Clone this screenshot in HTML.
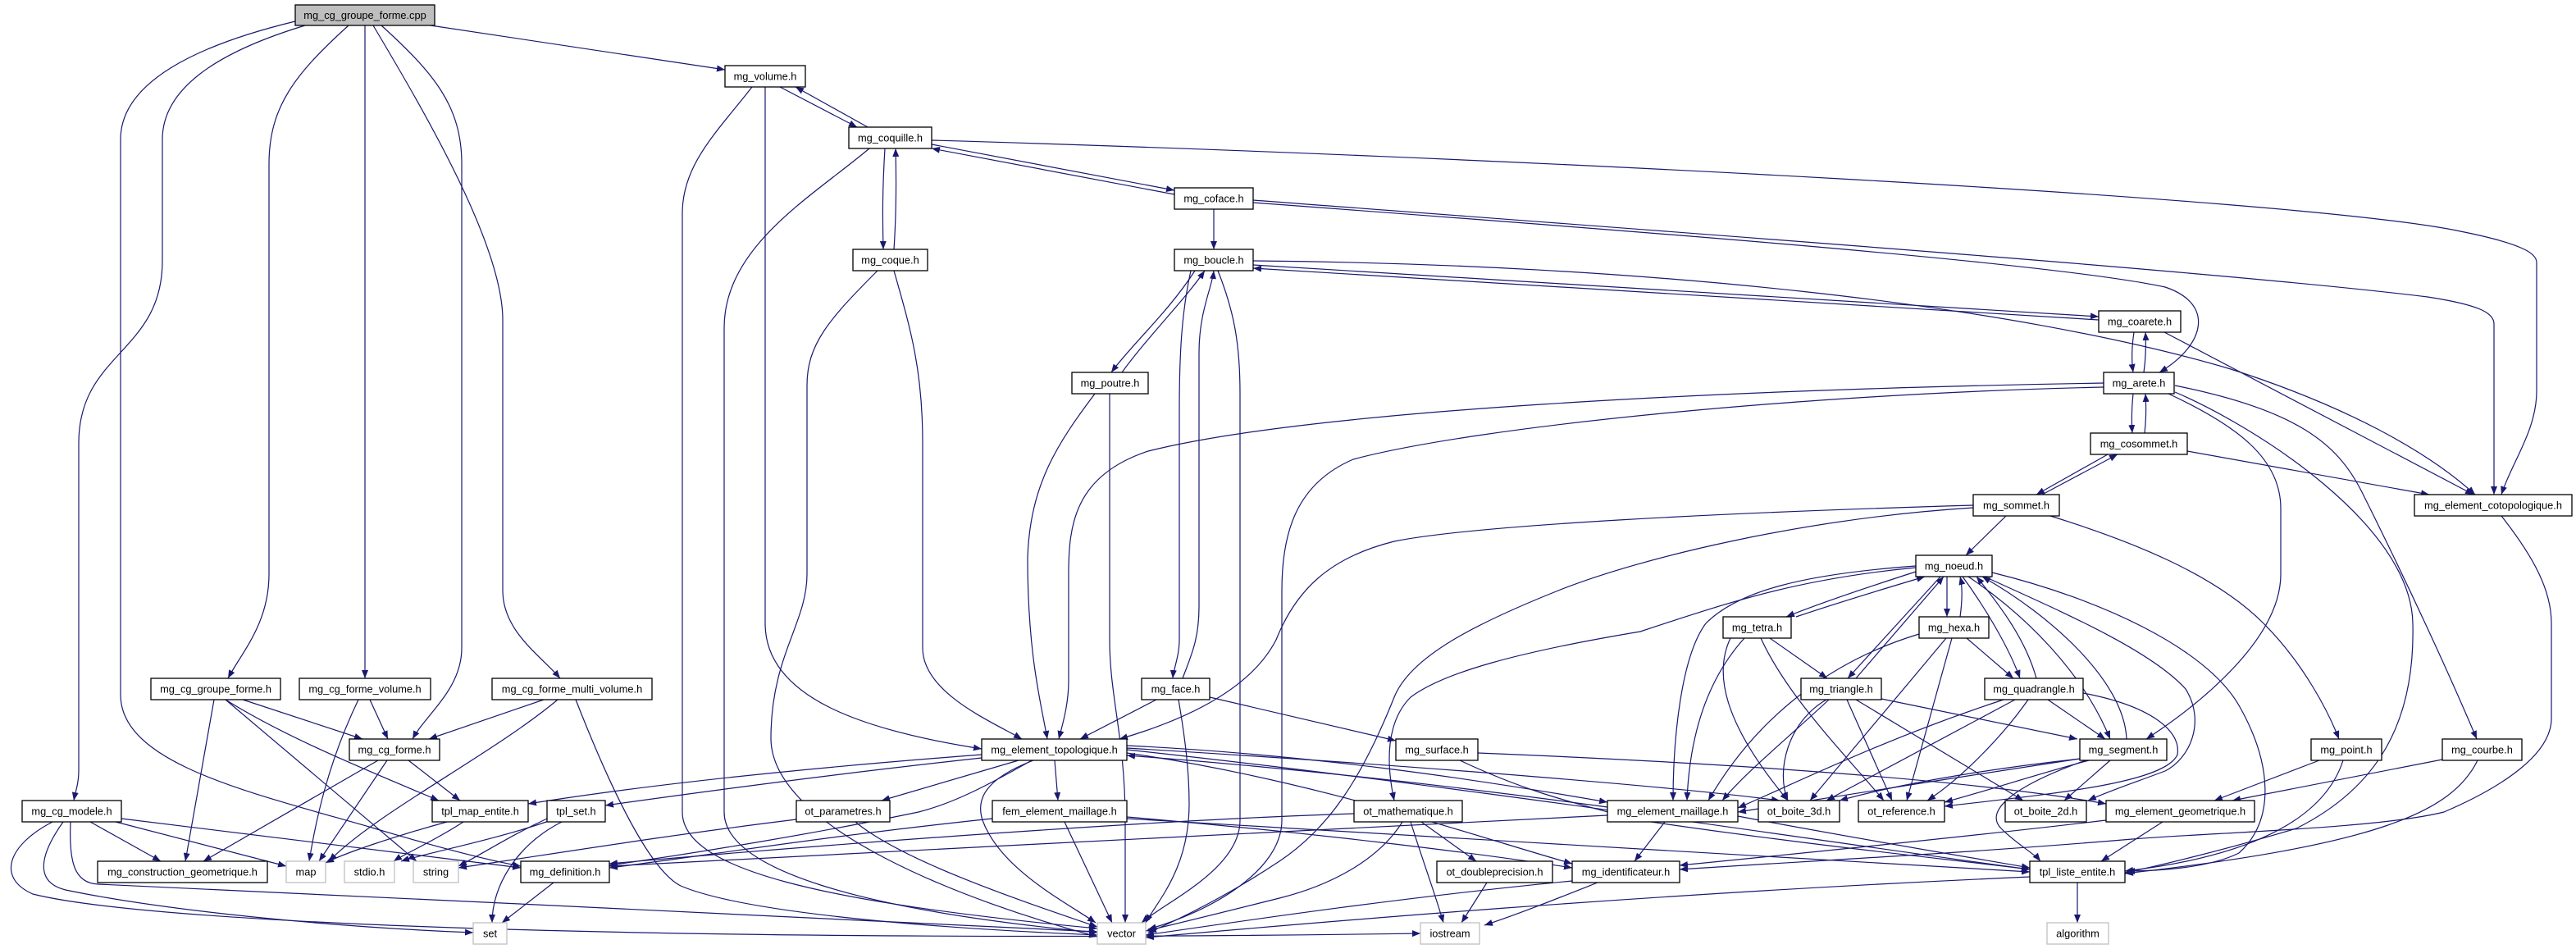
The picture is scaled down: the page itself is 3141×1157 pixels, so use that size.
<!DOCTYPE html>
<html><head><meta charset="utf-8"><style>
html,body{margin:0;padding:0;background:#fff;}
svg{display:block;}
.e{fill:none;stroke:#191970;stroke-width:1.2;marker-end:url(#a);}
.n{fill:#fff;stroke:#000;stroke-width:1.3;}
.g{fill:#fff;stroke:#bfbfbf;stroke-width:1.3;}
.r{fill:#bfbfbf;stroke:#000;stroke-width:1.3;}
text{font-family:"Liberation Sans",Arial,sans-serif;font-size:12.8px;fill:#000;text-anchor:middle;}
</style></head><body>
<svg width="3141" height="1157" viewBox="0 0 3141 1157" xmlns="http://www.w3.org/2000/svg">
<defs><marker id="a" markerWidth="11" markerHeight="8" refX="10" refY="4" orient="auto" markerUnits="userSpaceOnUse"><path d="M0,0 L10,4 L0,8 z" fill="#191970"/></marker></defs>
<g>
<path class="e" d="M525,31 L884,85"/>
<path class="e" d="M372,31 C260,65 198,110 198,170 L198,318 C198,430 96,430 96,540 L96,940 C96,955 92,965 90,976"/>
<path class="e" d="M360,26 C240,55 147,100 147,170 L147,847 C147,930 300,965 450,1008 C530,1032 590,1048 635,1056"/>
<path class="e" d="M425,31 C360,90 328,130 328,200 L328,700 C328,760 295,795 278,827"/>
<path class="e" d="M445,31 L445,827"/>
<path class="e" d="M465,31 C530,90 563,130 563,200 L563,790 C563,840 520,870 503,901"/>
<path class="e" d="M455,31 C520,140 613,300 613,390 L613,720 C613,770 660,800 683,827"/>
<path class="e" d="M951,106 L1045,155"/>
<path class="e" d="M1058,155 L970,106"/>
<path class="e" d="M917,106 C875,160 832,200 832,260 L832,990 C832,1060 1000,1100 1338,1132"/>
<path class="e" d="M933,106 L933,760 C933,850 1050,890 1197,913"/>
<path class="e" d="M1136,176 L1432,232"/>
<path class="e" d="M1432,237 L1136,181"/>
<path class="e" d="M1079,181 C1076,230 1076,260 1077,304"/>
<path class="e" d="M1090,304 C1093,260 1093,220 1092,181"/>
<path class="e" d="M1060,181 C990,240 883,300 883,400 L883,990 C883,1060 1050,1110 1338,1137"/>
<path class="e" d="M1136,171 C1800,190 2800,240 3000,282 C3080,298 3093,310 3093,320 L3093,477 C3093,525 3062,565 3050,603"/>
<path class="e" d="M1480,255 L1480,304"/>
<path class="e" d="M1528,244 C2000,280 2700,330 2960,362 C3025,372 3041,382 3041,395 L3041,603"/>
<path class="e" d="M1528,247 C2000,282 2500,320 2640,350 C2700,370 2690,420 2633,454"/>
<path class="e" d="M1457,330 C1425,380 1380,420 1355,454"/>
<path class="e" d="M1368,454 C1400,410 1445,365 1469,330"/>
<path class="e" d="M1452,330 C1441,380 1438,430 1438,500 L1438,780 C1438,800 1431,815 1430,827"/>
<path class="e" d="M1442,827 C1452,800 1462,780 1462,740 L1462,430 C1462,380 1478,350 1480,330"/>
<path class="e" d="M1485,330 C1505,380 1512,420 1512,480 L1512,1000 C1512,1060 1420,1100 1392,1125"/>
<path class="e" d="M1528,318 C2000,322 2450,370 2720,450 C2860,495 2960,550 3018,603"/>
<path class="e" d="M1528,323 L2559,386"/>
<path class="e" d="M2559,390 L1528,327"/>
<path class="e" d="M1070,330 C1010,390 984,420 984,470 L984,700 C984,760 940,800 940,900 C940,1010 1180,1100 1338,1142"/>
<path class="e" d="M1090,330 C1110,400 1125,450 1125,540 L1125,790 C1125,845 1210,880 1246,901"/>
<path class="e" d="M1335,480 C1290,540 1256,590 1253,680 C1253,800 1270,860 1277,901"/>
<path class="e" d="M1353,480 L1353,780 C1353,850 1372,900 1372,1000 L1372,1125"/>
<path class="e" d="M1410,853 L1317,901"/>
<path class="e" d="M1437,853 C1445,900 1450,940 1450,980 C1450,1060 1410,1100 1397,1125"/>
<path class="e" d="M1475,850 L1702,903"/>
<path class="e" d="M1197,920 C1000,935 800,955 644,980"/>
<path class="e" d="M1197,924 C1050,940 880,962 738,982"/>
<path class="e" d="M1242,927 L1075,976"/>
<path class="e" d="M1286,927 L1290,976"/>
<path class="e" d="M1260,927 C1200,950 1190,975 1198,1000 C1220,1060 1300,1100 1336,1125"/>
<path class="e" d="M1258,927 C1200,960 1160,980 1120,990 C1000,1015 850,1040 743,1055"/>
<path class="e" d="M1374,909 C1600,920 1800,950 1960,978"/>
<path class="e" d="M1960,984 C1800,962 1600,938 1374,921"/>
<path class="e" d="M1374,912 C1750,935 2050,960 2170,976"/>
<path class="e" d="M1374,914 C1800,960 2250,1030 2475,1060"/>
<path class="e" d="M1374,918 C1600,950 1800,1020 1917,1053"/>
<path class="e" d="M1298,1002 L1356,1125"/>
<path class="e" d="M1210,998 C1000,1020 850,1045 743,1058"/>
<path class="e" d="M1374,996 C1600,1015 1800,1040 1917,1058"/>
<path class="e" d="M1374,998 C1700,1015 2200,1050 2475,1063"/>
<path class="e" d="M1651,992 C1400,1000 1000,1030 743,1053"/>
<path class="e" d="M1960,994 C1700,1010 1100,1035 743,1056"/>
<path class="e" d="M2030,1002 L1993,1050"/>
<path class="e" d="M2119,995 C2250,1020 2400,1045 2475,1058"/>
<path class="e" d="M1733,1002 L1800,1050"/>
<path class="e" d="M1720,1002 C1735,1050 1750,1090 1760,1125"/>
<path class="e" d="M1710,1002 C1680,1050 1620,1080 1560,1095 C1500,1110 1440,1125 1397,1135"/>
<path class="e" d="M1813,1076 L1782,1125"/>
<path class="e" d="M1948,1076 C1900,1095 1850,1115 1810,1128"/>
<path class="e" d="M1917,1074 C1700,1095 1500,1125 1397,1140"/>
<path class="e" d="M2533,1076 L2533,1125"/>
<path class="e" d="M2475,1069 C2000,1090 1600,1125 1397,1143"/>
<path class="e" d="M971,999 C800,1020 650,1045 559,1058"/>
<path class="e" d="M1043,1002 C1100,1050 1250,1100 1338,1130"/>
<path class="e" d="M545,1002 C480,1020 420,1040 397,1052"/>
<path class="e" d="M565,1002 C530,1025 495,1040 480,1050"/>
<path class="e" d="M667,998 C620,1020 590,1040 559,1056"/>
<path class="e" d="M672,1000 C600,1025 520,1040 489,1050"/>
<path class="e" d="M685,1002 C630,1030 600,1080 600,1125"/>
<path class="e" d="M675,1076 L612,1125"/>
<path class="e" d="M275,853 L508,1050"/>
<path class="e" d="M275,853 C350,900 450,940 535,976"/>
<path class="e" d="M296,853 L442,901"/>
<path class="e" d="M261,853 L226,1050"/>
<path class="e" d="M437,853 C400,930 385,1000 377,1050"/>
<path class="e" d="M451,853 L473,901"/>
<path class="e" d="M663,853 L523,901"/>
<path class="e" d="M680,853 C600,920 460,990 401,1050"/>
<path class="e" d="M702,853 C740,950 790,1060 830,1080 C900,1110 1100,1130 1338,1140"/>
<path class="e" d="M461,927 L248,1050"/>
<path class="e" d="M472,927 L389,1050"/>
<path class="e" d="M498,927 L561,976"/>
<path class="e" d="M110,1002 L196,1050"/>
<path class="e" d="M141,1002 L349,1056"/>
<path class="e" d="M148,998 L635,1058"/>
<path class="e" d="M86,1002 C84,1050 90,1077 120,1078 C500,1095 1000,1120 1338,1136"/>
<path class="e" d="M77,1002 C50,1040 40,1075 80,1085 C200,1110 400,1130 577,1137"/>
<path class="e" d="M64,1002 C10,1030 -5,1070 40,1090 C200,1130 900,1150 1732,1138"/>
<path class="e" d="M2602,405 C2599,425 2599,440 2601,454"/>
<path class="e" d="M2614,454 C2616,440 2617,425 2616,405"/>
<path class="e" d="M2639,405 L3016,603"/>
<path class="e" d="M2601,480 C2599,500 2599,515 2600,528"/>
<path class="e" d="M2615,528 C2617,510 2617,495 2616,480"/>
<path class="e" d="M2565,467 C2100,475 1600,500 1400,550 C1310,580 1303,640 1303,700 L1303,830 C1303,860 1295,885 1291,901"/>
<path class="e" d="M2565,472 C2200,480 1800,520 1650,560 C1580,590 1563,650 1563,720 L1563,1000 C1563,1060 1480,1110 1400,1133"/>
<path class="e" d="M2644,480 C2730,520 2781,560 2781,620 L2781,700 C2781,780 2680,860 2617,901"/>
<path class="e" d="M2652,478 C2750,520 2940,640 2942,760 C2945,880 2900,960 2800,1010 C2700,1040 2620,1058 2591,1064"/>
<path class="e" d="M2652,470 C2800,500 2850,540 2880,600 C2940,720 2990,830 3020,901"/>
<path class="e" d="M2570,554 L2483,603"/>
<path class="e" d="M2490,603 L2582,554"/>
<path class="e" d="M2667,550 L2962,603"/>
<path class="e" d="M2446,629 L2397,677"/>
<path class="e" d="M2500,629 C2600,660 2700,700 2760,760 C2810,810 2840,870 2852,901"/>
<path class="e" d="M2406,616 C2100,625 1800,640 1700,660 C1620,680 1580,720 1556,780 C1520,850 1420,885 1365,901"/>
<path class="e" d="M2406,619 C2200,632 2000,680 1900,720 C1800,760 1720,800 1700,850 C1660,950 1620,1010 1560,1050 C1500,1090 1440,1120 1400,1137"/>
<path class="e" d="M2336,697 C2280,715 2220,735 2178,752"/>
<path class="e" d="M2190,752 C2240,735 2300,717 2347,703"/>
<path class="e" d="M2374,703 L2374,752"/>
<path class="e" d="M2390,752 C2393,730 2393,715 2390,703"/>
<path class="e" d="M2366,703 L2253,827"/>
<path class="e" d="M2263,827 L2370,703"/>
<path class="e" d="M2393,703 C2420,740 2450,790 2463,827"/>
<path class="e" d="M2483,827 C2470,780 2440,740 2410,703"/>
<path class="e" d="M2400,703 C2470,750 2540,820 2573,901"/>
<path class="e" d="M2593,901 C2590,830 2500,750 2417,703"/>
<path class="e" d="M2429,698 C2560,730 2690,790 2730,860 C2770,930 2775,1000 2730,1040 C2690,1060 2620,1062 2593,1062"/>
<path class="e" d="M2420,703 C2500,740 2620,790 2665,840 C2690,880 2670,925 2640,940 C2600,955 2570,965 2546,976"/>
<path class="e" d="M2336,690 C2200,700 2120,720 2080,760 C2050,800 2040,900 2040,976"/>
<path class="e" d="M2336,692 C2200,705 2120,730 2000,770 C1850,795 1760,820 1720,850 C1690,880 1690,930 1700,976"/>
<path class="e" d="M2127,778 C2080,830 2060,900 2057,976"/>
<path class="e" d="M2340,773 C2250,800 2150,860 2083,976"/>
<path class="e" d="M2230,853 C2180,900 2130,940 2100,976"/>
<path class="e" d="M2443,853 C2300,900 2200,950 2119,985"/>
<path class="e" d="M2536,925 C2400,945 2250,970 2119,990"/>
<path class="e" d="M2158,778 L2228,827"/>
<path class="e" d="M2110,778 C2090,820 2100,880 2180,976"/>
<path class="e" d="M2147,778 C2180,850 2250,920 2297,976"/>
<path class="e" d="M2398,778 L2455,827"/>
<path class="e" d="M2373,778 L2207,976"/>
<path class="e" d="M2380,778 L2325,976"/>
<path class="e" d="M2294,852 L2533,901"/>
<path class="e" d="M2227,853 C2180,880 2165,940 2180,976"/>
<path class="e" d="M2252,853 L2307,976"/>
<path class="e" d="M2263,853 L2467,976"/>
<path class="e" d="M2497,853 L2567,901"/>
<path class="e" d="M2457,853 L2227,976"/>
<path class="e" d="M2473,853 C2440,900 2390,950 2350,976"/>
<path class="e" d="M2540,845 C2620,860 2660,890 2655,920 C2640,955 2500,968 2371,983"/>
<path class="e" d="M2537,925 C2400,940 2300,960 2243,976"/>
<path class="e" d="M2547,927 C2480,945 2420,965 2371,978"/>
<path class="e" d="M2573,927 L2517,976"/>
<path class="e" d="M2543,927 C2450,960 2420,990 2440,1010 C2460,1030 2480,1040 2488,1050"/>
<path class="e" d="M1802,918 C2100,930 2400,950 2568,980"/>
<path class="e" d="M1780,927 C1850,960 1900,975 2000,1000 C2200,1030 2400,1050 2475,1060"/>
<path class="e" d="M2828,927 L2700,976"/>
<path class="e" d="M2857,927 C2840,980 2780,1040 2591,1062"/>
<path class="e" d="M2978,926 L2722,976"/>
<path class="e" d="M3021,927 C2990,990 2900,1030 2591,1065"/>
<path class="e" d="M2568,1000 C2400,1020 2200,1040 2048,1055"/>
<path class="e" d="M2637,1002 L2562,1050"/>
<path class="e" d="M3050,629 C3090,680 3111,720 3111,760 L3111,876 C3111,920 3050,960 2980,990 C2900,1010 2700,1015 2600,1023 C2400,1040 2200,1050 2048,1060"/>
</g>
<g>
<rect class="r" x="360" y="6" width="170" height="25"/><text x="445" y="23">mg_cg_groupe_forme.cpp</text>
<rect class="n" x="884" y="80" width="98" height="26"/><text x="933" y="97.5">mg_volume.h</text>
<rect class="n" x="1035" y="155" width="101" height="26"/><text x="1085.5" y="172.5">mg_coquille.h</text>
<rect class="n" x="1432" y="229" width="96" height="26"/><text x="1480" y="246.5">mg_coface.h</text>
<rect class="n" x="1040" y="304" width="91" height="26"/><text x="1085.5" y="321.5">mg_coque.h</text>
<rect class="n" x="1432" y="304" width="96" height="26"/><text x="1480" y="321.5">mg_boucle.h</text>
<rect class="n" x="2559" y="379" width="100" height="26"/><text x="2609" y="396.5">mg_coarete.h</text>
<rect class="n" x="1307" y="454" width="93" height="26"/><text x="1353.5" y="471.5">mg_poutre.h</text>
<rect class="n" x="2565" y="454" width="86" height="26"/><text x="2608" y="471.5">mg_arete.h</text>
<rect class="n" x="2549" y="528" width="118" height="26"/><text x="2608" y="545.5">mg_cosommet.h</text>
<rect class="n" x="2406" y="603" width="105" height="26"/><text x="2458.5" y="620.5">mg_sommet.h</text>
<rect class="n" x="2944" y="603" width="192" height="26"/><text x="3040" y="620.5">mg_element_cotopologique.h</text>
<rect class="n" x="2336" y="677" width="93" height="26"/><text x="2382.5" y="694.5">mg_noeud.h</text>
<rect class="n" x="2101" y="752" width="83" height="26"/><text x="2142.5" y="769.5">mg_tetra.h</text>
<rect class="n" x="2340" y="752" width="85" height="26"/><text x="2382.5" y="769.5">mg_hexa.h</text>
<rect class="n" x="184" y="827" width="158" height="26"/><text x="263" y="844.5">mg_cg_groupe_forme.h</text>
<rect class="n" x="365" y="827" width="160" height="26"/><text x="445" y="844.5">mg_cg_forme_volume.h</text>
<rect class="n" x="600" y="827" width="195" height="26"/><text x="697.5" y="844.5">mg_cg_forme_multi_volume.h</text>
<rect class="n" x="1392" y="827" width="83" height="26"/><text x="1433.5" y="844.5">mg_face.h</text>
<rect class="n" x="2196" y="827" width="98" height="26"/><text x="2245" y="844.5">mg_triangle.h</text>
<rect class="n" x="2420" y="827" width="120" height="26"/><text x="2480" y="844.5">mg_quadrangle.h</text>
<rect class="n" x="426" y="901" width="110" height="26"/><text x="481" y="918.5">mg_cg_forme.h</text>
<rect class="n" x="1197" y="901" width="177" height="26"/><text x="1285.5" y="918.5">mg_element_topologique.h</text>
<rect class="n" x="1702" y="901" width="100" height="26"/><text x="1752" y="918.5">mg_surface.h</text>
<rect class="n" x="2536" y="901" width="106" height="26"/><text x="2589" y="918.5">mg_segment.h</text>
<rect class="n" x="2818" y="901" width="86" height="26"/><text x="2861" y="918.5">mg_point.h</text>
<rect class="n" x="2978" y="901" width="97" height="26"/><text x="3026.5" y="918.5">mg_courbe.h</text>
<rect class="n" x="27" y="976" width="121" height="26"/><text x="87.5" y="993.5">mg_cg_modele.h</text>
<rect class="n" x="527" y="976" width="117" height="26"/><text x="585.5" y="993.5">tpl_map_entite.h</text>
<rect class="n" x="667" y="976" width="71" height="26"/><text x="702.5" y="993.5">tpl_set.h</text>
<rect class="n" x="971" y="976" width="114" height="26"/><text x="1028" y="993.5">ot_parametres.h</text>
<rect class="n" x="1210" y="976" width="164" height="26"/><text x="1292" y="993.5">fem_element_maillage.h</text>
<rect class="n" x="1651" y="976" width="132" height="26"/><text x="1717" y="993.5">ot_mathematique.h</text>
<rect class="n" x="1960" y="976" width="159" height="26"/><text x="2039.5" y="993.5">mg_element_maillage.h</text>
<rect class="n" x="2144" y="976" width="99" height="26"/><text x="2193.5" y="993.5">ot_boite_3d.h</text>
<rect class="n" x="2266" y="976" width="105" height="26"/><text x="2318.5" y="993.5">ot_reference.h</text>
<rect class="n" x="2445" y="976" width="99" height="26"/><text x="2494.5" y="993.5">ot_boite_2d.h</text>
<rect class="n" x="2568" y="976" width="181" height="26"/><text x="2658.5" y="993.5">mg_element_geometrique.h</text>
<rect class="n" x="119" y="1050" width="207" height="26"/><text x="222.5" y="1067.5">mg_construction_geometrique.h</text>
<rect class="g" x="349" y="1050" width="48" height="26"/><text x="373" y="1067.5">map</text>
<rect class="g" x="420" y="1050" width="61" height="26"/><text x="450.5" y="1067.5">stdio.h</text>
<rect class="g" x="504" y="1050" width="55" height="26"/><text x="531.5" y="1067.5">string</text>
<rect class="n" x="635" y="1050" width="108" height="26"/><text x="689" y="1067.5">mg_definition.h</text>
<rect class="n" x="1752" y="1050" width="141" height="26"/><text x="1822.5" y="1067.5">ot_doubleprecision.h</text>
<rect class="n" x="1917" y="1050" width="131" height="26"/><text x="1982.5" y="1067.5">mg_identificateur.h</text>
<rect class="n" x="2475" y="1050" width="116" height="26"/><text x="2533" y="1067.5">tpl_liste_entite.h</text>
<rect class="g" x="577" y="1125" width="41" height="26"/><text x="597.5" y="1142.5">set</text>
<rect class="g" x="1338" y="1125" width="59" height="26"/><text x="1367.5" y="1142.5">vector</text>
<rect class="g" x="1732" y="1125" width="72" height="26"/><text x="1768" y="1142.5">iostream</text>
<rect class="g" x="2496" y="1125" width="75" height="26"/><text x="2533.5" y="1142.5">algorithm</text>
</g>
</svg>
</body></html>
